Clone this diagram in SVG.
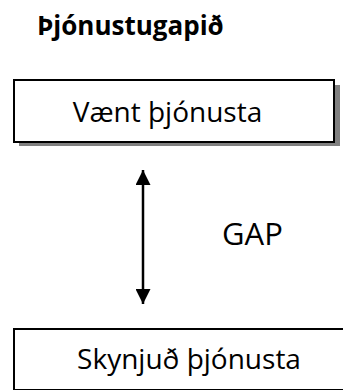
<svg xmlns="http://www.w3.org/2000/svg" width="343" height="390" viewBox="0 0 343 390">
  <style>
    .box { fill: #ffffff; stroke: #000000; stroke-width: 2; }
    .shadow { fill: #808080; }
    .label { font-family: "Open Sans", "Noto Sans", sans-serif; fill: #000000; }
    .conn { stroke: #000000; stroke-width: 2.5; fill: none; }
  </style>
  <defs>
    <marker id="head" viewBox="0 0 16 15" refX="15" refY="7.5" markerWidth="16" markerHeight="15" markerUnits="userSpaceOnUse" orient="auto-start-reverse">
      <path d="M0,0 L15,7.5 L0,15 Z" fill="#000000"/>
    </marker>
  </defs>
  <rect width="343" height="390" fill="#ffffff"/>

  <text id="title" class="label" x="37" y="35" font-size="26" font-weight="bold">Þjónustugapið</text>

  <g id="expected">
    <rect class="shadow" x="19" y="85" width="321" height="61"/>
    <rect class="box" x="14" y="80" width="320" height="62"/>
    <text class="label" x="167.5" y="122" font-size="28" text-anchor="middle">Vænt þjónusta</text>
  </g>

  <g id="perceived">
    <rect class="shadow" x="19" y="334" width="330" height="62"/>
    <rect class="box" x="14" y="329" width="335" height="61"/>
    <text class="label" x="189" y="369" font-size="28" text-anchor="middle">Skynjuð þjónusta</text>
  </g>

  <g id="gap">
    <text class="label" x="222" y="245" font-size="31">GAP</text>
  </g>

  <g id="connectors">
    <line class="conn" x1="143" y1="170" x2="143" y2="304" marker-start="url(#head)" marker-end="url(#head)"/>
  </g>
</svg>
